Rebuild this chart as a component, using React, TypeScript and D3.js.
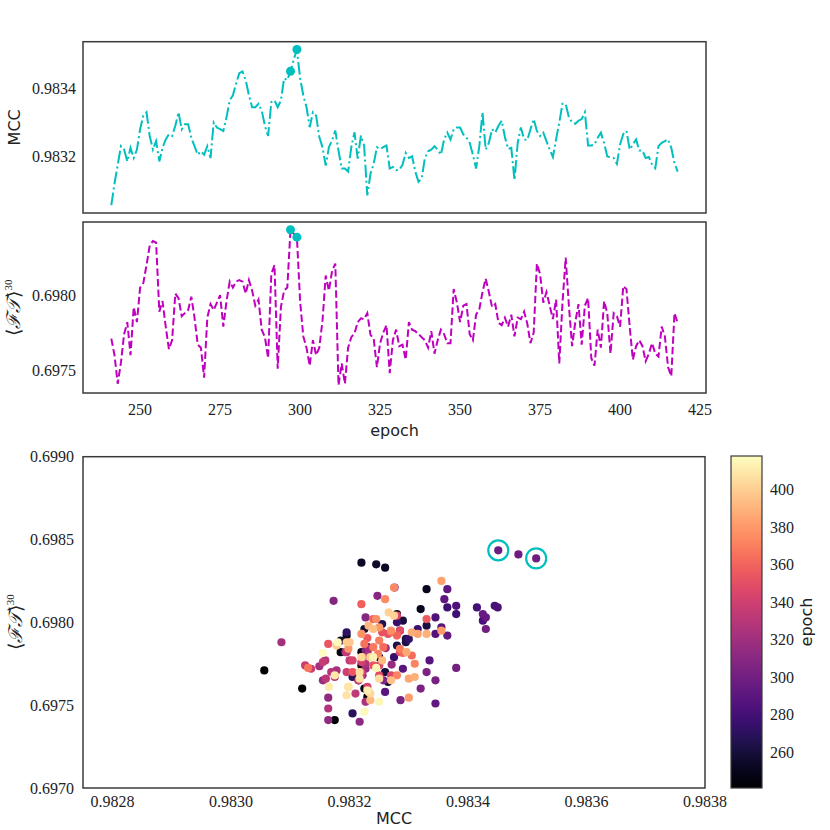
import React from 'react';
import * as d3 from 'd3';

const EPOCH_START = 241;

const mcc = [
  0.983056, 0.98312, 0.983175, 0.98323, 0.98322, 0.983185, 0.983225, 0.983195, 0.98322, 0.98328,
  0.98332, 0.98333, 0.98326, 0.98322, 0.983245, 0.983185, 0.983225, 0.98325, 0.983265, 0.98326,
  0.98329, 0.98333, 0.98328, 0.983295, 0.983295, 0.983255, 0.98323, 0.983205, 0.983215, 0.983205,
  0.98323, 0.983195, 0.9833, 0.983285, 0.98328, 0.983275, 0.983315, 0.983365, 0.98338, 0.983415,
  0.983445, 0.98345, 0.983425, 0.98338, 0.983345, 0.983345, 0.983355, 0.983335, 0.98329, 0.98326,
  0.98336, 0.983365, 0.983345, 0.983365, 0.98343, 0.983425, 0.983451, 0.983485, 0.983515, 0.98343,
  0.98338, 0.983345, 0.983286, 0.98333, 0.98332, 0.983257, 0.983227, 0.983173, 0.983227, 0.983247,
  0.983276, 0.983217, 0.983164, 0.983164, 0.983155, 0.983227, 0.983271, 0.983193, 0.983261, 0.983232,
  0.983085, 0.983149, 0.983178, 0.983227, 0.983222, 0.983227, 0.983232, 0.983164, 0.983169, 0.983159,
  0.98316, 0.983175, 0.98321, 0.983195, 0.9832, 0.983155, 0.983125, 0.983135, 0.983195, 0.983215,
  0.98322, 0.98323, 0.98322, 0.983205, 0.98325, 0.98327, 0.98325, 0.98328, 0.983285, 0.983285,
  0.983265, 0.983255, 0.98324, 0.983205, 0.983164, 0.98323, 0.98333, 0.98322, 0.98324, 0.98328,
  0.98327, 0.98329, 0.983305, 0.983257, 0.983222, 0.983225, 0.98313, 0.98324, 0.983285, 0.98325,
  0.983248, 0.98328, 0.98331, 0.983275, 0.98326, 0.98327, 0.983245, 0.98322, 0.983198, 0.98325,
  0.9833, 0.983355, 0.983355, 0.983315, 0.9833, 0.983296, 0.983305, 0.98331, 0.98333, 0.983232,
  0.983232, 0.983235, 0.983255, 0.98327, 0.98324, 0.9832, 0.983198, 0.983195, 0.983178, 0.983235,
  0.983266, 0.983275, 0.98322, 0.983235, 0.98325, 0.983217, 0.983217, 0.983195, 0.983198, 0.983175,
  0.983165, 0.98323, 0.98324, 0.983245, 0.98325, 0.983225, 0.98318, 0.983155,
];

const ft = [
  0.69771, 0.6976, 0.69741, 0.69755, 0.69774, 0.69782, 0.6976, 0.69792, 0.69782, 0.69805,
  0.69808, 0.6982, 0.69833, 0.69836, 0.69835, 0.69789, 0.69796, 0.69779, 0.69764, 0.6977,
  0.69801, 0.69798, 0.69786, 0.69788, 0.6979, 0.69799, 0.69785, 0.69767, 0.69765, 0.69745,
  0.69785, 0.69794, 0.6979, 0.69795, 0.698, 0.69779, 0.69796, 0.69809, 0.69805, 0.69809,
  0.6981, 0.69809, 0.69801, 0.6981, 0.69803, 0.69793, 0.69797, 0.69777, 0.69772, 0.69758,
  0.69814, 0.6982, 0.69751, 0.69792, 0.69803, 0.69805, 0.698435, 0.69841, 0.698386, 0.69796,
  0.697725, 0.69765, 0.69753, 0.6977, 0.6976, 0.69765, 0.69783, 0.69813, 0.69803, 0.69816,
  0.69821, 0.6974, 0.697545, 0.69741, 0.69765, 0.69772, 0.697745, 0.69782, 0.697845, 0.69784,
  0.69788, 0.697735, 0.69771, 0.69752, 0.69768, 0.69775, 0.6978, 0.69748, 0.6977, 0.69777,
  0.69766, 0.69767, 0.69757, 0.69782, 0.69777, 0.69776, 0.69774, 0.69772, 0.6977, 0.69765,
  0.69776, 0.69761, 0.6977, 0.69777, 0.69774, 0.69768, 0.69768, 0.69804, 0.69795, 0.69782,
  0.69793, 0.69794, 0.69774, 0.6977, 0.69787, 0.697905, 0.69802, 0.69811, 0.69802, 0.69792,
  0.69794, 0.697815, 0.6978, 0.69785, 0.69779, 0.69787, 0.697725, 0.69785, 0.69784, 0.69789,
  0.69781, 0.69768, 0.69775, 0.69821, 0.69814, 0.69795, 0.69802, 0.69793, 0.69784, 0.69797,
  0.697545, 0.69795, 0.69825, 0.69793, 0.69766, 0.69782, 0.69794, 0.69767, 0.69793, 0.69798,
  0.69758, 0.69753, 0.69777, 0.69765, 0.69796, 0.69788, 0.69761, 0.69788, 0.69786, 0.69779,
  0.69806, 0.69804, 0.69779, 0.69757, 0.69766, 0.6977, 0.69766, 0.69756, 0.69761, 0.69768,
  0.69761, 0.69759, 0.69779, 0.697725, 0.69752, 0.69746, 0.69788, 0.697815,
];

const highlightEpochs = [297, 299];
const epochTicks = [250, 275, 300, 325, 350, 375, 400, 425];
const mccTicks = [0.9832, 0.9834];
const ftTicks = [0.6975, 0.698];
const scatterXTicks = [0.9828, 0.983, 0.9832, 0.9834, 0.9836, 0.9838];
const scatterYTicks = [0.697, 0.6975, 0.698, 0.6985, 0.699];
const cbarTicks = [260, 280, 300, 320, 340, 360, 380, 400];

const SERIF = "'Liberation Serif', 'Times New Roman', serif";
const SANS = "'DejaVu Sans', sans-serif";
const CYAN = '#00bfbf';
const MAGENTA = '#bf00bf';
const FRAME = '#3a3a3a';

function pad(ext: [number, number]): [number, number] {
  const r = ext[1] - ext[0];
  return [ext[0] - 0.05 * r, ext[1] + 0.05 * r];
}

function FTLabel({ x, y }: { x: number; y: number }) {
  return (
    <text x={x} y={y} transform={`rotate(-90 ${x} ${y})`} textAnchor="middle" fontFamily={SERIF} fontSize={19} fill="#222">
      <tspan>⟨</tspan>
      <tspan fontStyle="italic">ℱ𝒯</tspan>
      <tspan>⟩</tspan>
      <tspan fontSize={11} dy={-8}>30</tspan>
    </text>
  );
}

export default function App() {
  const epochs = mcc.map((_, i) => EPOCH_START + i);
  const L = 83;
  const R = 706;
  const T1 = 41.7, B1 = 213;
  const T2 = 222, B2 = 393;
  const SL = 83, SR = 705, ST = 456.7, SB = 788;
  const CL = 731, CR = 762, CT = 456, CB = 788;

  const x = d3.scaleLinear().domain(pad(d3.extent(epochs) as [number, number])).range([L, R]);
  const yM = d3.scaleLinear().domain(pad(d3.extent(mcc) as [number, number])).range([B1, T1]);
  const yF = d3.scaleLinear().domain(pad(d3.extent(ft) as [number, number])).range([B2, T2]);
  const sx = d3.scaleLinear().domain([0.98275, 0.9838]).range([SL, SR]);
  const sy = d3.scaleLinear().domain([0.697, 0.699]).range([SB, ST]);
  const eExt = d3.extent(epochs) as [number, number];
  const color = d3.scaleSequential(d3.interpolateMagma).domain(eExt);
  const cb = d3.scaleLinear().domain(eExt).range([CB, CT]);

  const lineM = d3.line<number>().x((_, i) => x(epochs[i])).y((d) => yM(d));
  const lineF = d3.line<number>().x((_, i) => x(epochs[i])).y((d) => yF(d));

  const stops = d3.range(0, 1.0001, 0.05);

  return (
    <svg width={830} height={830} style={{ position: 'absolute', left: 0, top: 0, background: '#fff' }}>
      <defs>
        <linearGradient id="magma" x1="0" y1="1" x2="0" y2="0">
          {stops.map((t) => (
            <stop key={t} offset={`${t * 100}%`} stopColor={d3.interpolateMagma(t)} />
          ))}
        </linearGradient>
        <clipPath id="c1"><rect x={L} y={T1} width={R - L} height={B1 - T1} /></clipPath>
        <clipPath id="c2"><rect x={L} y={T2} width={R - L} height={B2 - T2} /></clipPath>
      </defs>

      {/* Top panel: MCC */}
      <path d={lineM(mcc) || ''} fill="none" stroke={CYAN} strokeWidth={2} strokeDasharray="12.8,3.2,2,3.2" clipPath="url(#c1)" />
      {highlightEpochs.map((e) => (
        <circle key={e} cx={x(e)} cy={yM(mcc[e - EPOCH_START])} r={4.5} fill={CYAN} />
      ))}
      <rect x={L} y={T1} width={R - L} height={B1 - T1} fill="none" stroke={FRAME} strokeWidth={1.5} />
      {mccTicks.map((t) => (
        <text key={t} x={76} y={yM(t)} dy="0.35em" textAnchor="end" fontFamily={SERIF} fontSize={16} fill="#222">{t.toFixed(4)}</text>
      ))}
      <text x={20} y={(T1 + B1) / 2} transform={`rotate(-90 20 ${(T1 + B1) / 2})`} textAnchor="middle" fontFamily={SANS} fontSize={16} fill="#222">MCC</text>

      {/* Middle panel: FT */}
      <path d={lineF(ft) || ''} fill="none" stroke={MAGENTA} strokeWidth={2} strokeDasharray="7.4,3.2" clipPath="url(#c2)" />
      {highlightEpochs.map((e) => (
        <circle key={e} cx={x(e)} cy={yF(ft[e - EPOCH_START])} r={4.5} fill={CYAN} />
      ))}
      <rect x={L} y={T2} width={R - L} height={B2 - T2} fill="none" stroke={FRAME} strokeWidth={1.5} />
      {ftTicks.map((t) => (
        <text key={t} x={76} y={yF(t)} dy="0.35em" textAnchor="end" fontFamily={SERIF} fontSize={16} fill="#222">{t.toFixed(4)}</text>
      ))}
      {epochTicks.map((t) => (
        <text key={t} x={x(t)} y={409} dy="0.35em" textAnchor="middle" fontFamily={SERIF} fontSize={16} fill="#222">{t}</text>
      ))}
      <text x={(L + R) / 2} y={436} textAnchor="middle" fontFamily={SANS} fontSize={16} fill="#222">epoch</text>
      <FTLabel x={20} y={(T2 + B2) / 2} />

      {/* Scatter */}
      {epochs.map((e, i) => (
        <circle key={e} cx={sx(mcc[i])} cy={sy(ft[i])} r={4.1} fill={color(e)} />
      ))}
      {highlightEpochs.map((e) => (
        <circle key={e} cx={sx(mcc[e - EPOCH_START])} cy={sy(ft[e - EPOCH_START])} r={10} fill="none" stroke={CYAN} strokeWidth={2.2} />
      ))}
      <rect x={SL} y={ST} width={SR - SL} height={SB - ST} fill="none" stroke={FRAME} strokeWidth={1.5} />
      {scatterYTicks.map((t) => (
        <text key={t} x={74} y={sy(t)} dy="0.35em" textAnchor="end" fontFamily={SERIF} fontSize={16} fill="#222">{t.toFixed(4)}</text>
      ))}
      {scatterXTicks.map((t) => (
        <text key={t} x={sx(t)} y={801} dy="0.35em" textAnchor="middle" fontFamily={SERIF} fontSize={16} fill="#222">{t.toFixed(4)}</text>
      ))}
      <text x={(SL + SR) / 2} y={824} textAnchor="middle" fontFamily={SANS} fontSize={16} fill="#222">MCC</text>
      <FTLabel x={22} y={(ST + SB) / 2} />

      {/* Colorbar */}
      <rect x={CL} y={CT} width={CR - CL} height={CB - CT} fill="url(#magma)" stroke={FRAME} strokeWidth={1.2} />
      {cbarTicks.map((t) => (
        <text key={t} x={770} y={cb(t)} dy="0.35em" textAnchor="start" fontFamily={SERIF} fontSize={16} fill="#222">{t}</text>
      ))}
      <text x={812} y={(CT + CB) / 2} transform={`rotate(-90 812 ${(CT + CB) / 2})`} textAnchor="middle" fontFamily={SANS} fontSize={16} fill="#222">epoch</text>
    </svg>
  );
}
